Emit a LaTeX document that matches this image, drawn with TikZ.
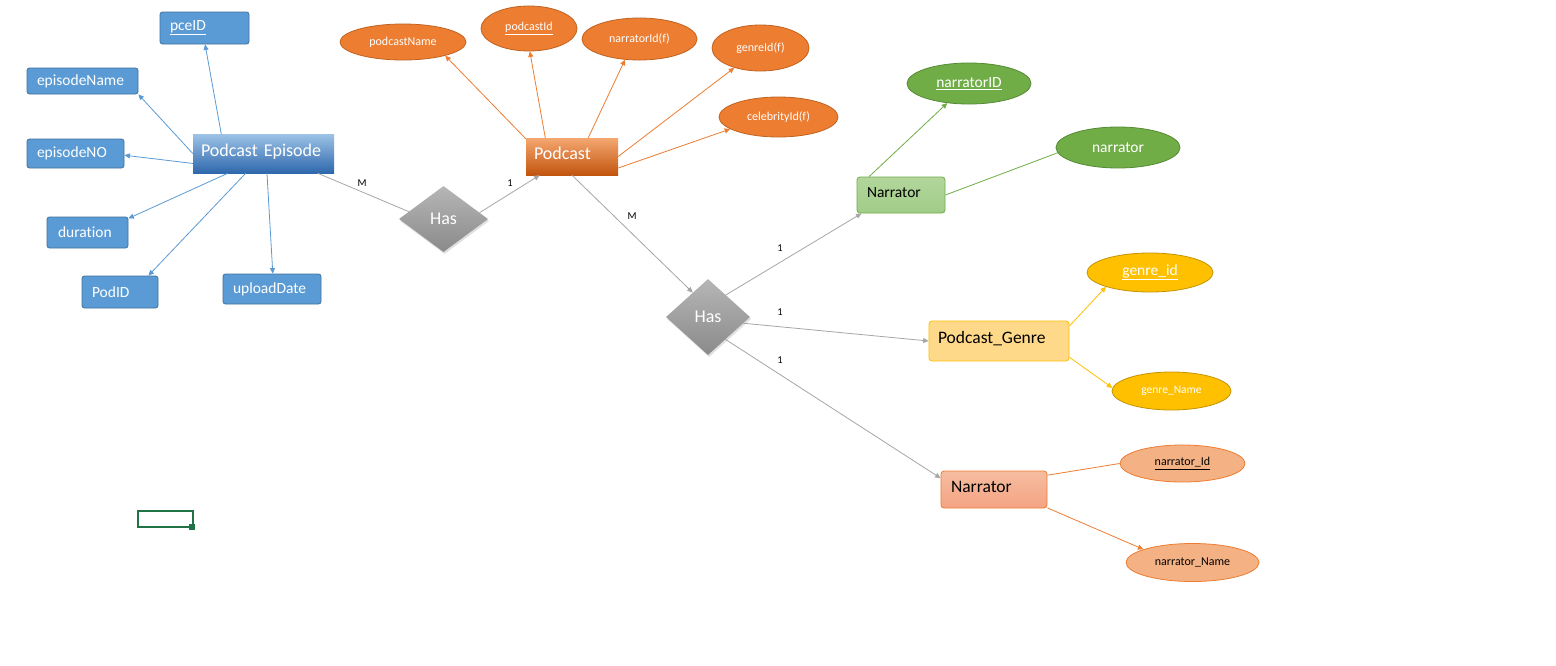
\documentclass[tikz,border=0pt]{standalone}
\usepackage{fontspec}
\setmainfont{Carlito}[Ligatures=NoCommon]
\usetikzlibrary{arrows.meta,shapes.geometric,shadows}

\definecolor{blueattr}{HTML}{5B9BD5}
\definecolor{blueedge}{HTML}{41719C}
\definecolor{bluetop}{HTML}{9DC3E6}
\definecolor{bluebot}{HTML}{2E68AC}
\definecolor{podorange}{HTML}{ED7D31}
\definecolor{orangeedge}{HTML}{C0631F}
\definecolor{orangetop}{HTML}{F4A771}
\definecolor{orangebot}{HTML}{C2550E}
\definecolor{grn}{HTML}{70AD47}
\definecolor{grnedge}{HTML}{578A36}
\definecolor{grnboxtop}{HTML}{B2D69C}
\definecolor{grnboxbot}{HTML}{A1CC87}
\definecolor{yel}{HTML}{FFC000}
\definecolor{yeledge}{HTML}{C49400}
\definecolor{yelbox}{HTML}{FFD98A}
\definecolor{salm}{HTML}{F4B183}
\definecolor{salmtop}{HTML}{F6BDA0}
\definecolor{salmbot}{HTML}{F4A383}
\definecolor{relgray}{HTML}{A6A6A6}
\definecolor{hastop}{HTML}{B6B6B6}
\definecolor{hasbot}{HTML}{8A8A8A}
\definecolor{excel}{HTML}{217346}

\tikzset{
  tip/.style={-{Triangle[length=5.5pt,width=5pt]}},
  battr/.style={rectangle, rounded corners=2.5pt, draw=blueedge, fill=blueattr,
    line width=0.8pt, text=white, align=left, inner xsep=10pt, inner ysep=0pt,
    font=\fontsize{15.5}{18}\selectfont},
  entbox/.style={rectangle, align=left, inner ysep=0pt, inner xsep=8pt,
    text height=13pt, text depth=8pt,
    font=\fontsize{18}{20}\selectfont, text=white},
  relbox/.style={rectangle, rounded corners=3pt, line width=0.8pt, align=left,
    inner ysep=0pt, inner xsep=10pt, text=black, text height=12pt, text depth=7pt},
  oval/.style={ellipse, inner sep=0pt, line width=0.8pt, align=center},
  orangeattr/.style={oval, fill=podorange, draw=orangeedge, text=white,
    font=\fontsize{12}{14}\selectfont},
  has/.style={diamond, inner sep=0pt, top color=hastop, bottom color=hasbot,
    text=white, font=\fontsize{18}{20}\selectfont,
    drop shadow={opacity=0.25, shadow xshift=1pt, shadow yshift=-2pt}},
  card/.style={font=\fontsize{10.5}{12}\selectfont, text=black, inner sep=0pt},
  bluelink/.style={draw=blueattr, line width=0.8pt},
  orangelink/.style={draw=podorange, line width=0.8pt},
  greenlink/.style={draw=grn, line width=0.8pt},
  yellink/.style={draw=yel, line width=0.8pt},
  rellink/.style={draw=relgray, line width=0.8pt},
}

\begin{document}
\begin{tikzpicture}[x=1pt, y=-1pt]
\useasboundingbox (0,0) rectangle (1556,665);
\fill[white] (0,0) rectangle (1556,665);

% ---------- Podcast Episode entity and its attributes ----------
\node[entbox, top color=bluetop, bottom color=bluebot, minimum width=141pt,
  minimum height=39pt, text width=125pt] (pe) at (263.5,153.5) {Podcast Episode};

\node[battr, minimum width=89pt, minimum height=32pt, text width=69pt] (pceid) at (204.5,28) {\underline{pceID}};
\node[battr, minimum width=111pt, minimum height=26pt, text width=91pt] (epname) at (82.5,81) {episodeName};
\node[battr, minimum width=97pt, minimum height=29pt, text width=77pt] (epno) at (75.5,153.5) {episodeNO};
\node[battr, minimum width=81pt, minimum height=31pt, text width=59pt, inner xsep=11pt] (dur) at (87.5,232.5) {duration};
\node[battr, minimum width=76pt, minimum height=32pt, text width=56pt] (podid) at (120,292) {PodID};
\node[battr, minimum width=98pt, minimum height=30pt, text width=78pt] (upload) at (272,289) {uploadDate};

\draw[bluelink, tip] (pe.155) -- (pceid.272);
\draw[bluelink, tip] (pe.west) -- (epname.south east);
\draw[bluelink, tip] (pe.188) -- (epno.358);
\draw[bluelink, tip] (pe.209) -- (dur.19);
\draw[bluelink, tip] (pe.228) -- (podid.30);
\draw[bluelink, tip] (pe.280) -- (upload.87);

% ---------- Podcast entity and its attributes ----------
\node[entbox, top color=orangetop, bottom color=orangebot, minimum width=92pt,
  minimum height=37pt, text width=76pt] (pod) at (572,156.5) {Podcast};

\node[orangeattr, minimum width=126pt, minimum height=36pt] (pname) at (403,42) {podcastName};
\node[orangeattr, minimum width=96pt, minimum height=45pt] (pid) at (529,28.5) {\underline{podcastId}};
\node[orangeattr, minimum width=115pt, minimum height=42pt] (pnarr) at (639.5,39) {narratorId(f)};
\node[orangeattr, minimum width=97pt, minimum height=46pt] (pgenre) at (760.5,48) {genreId(f)};
\node[orangeattr, minimum width=119pt, minimum height=40pt] (pceleb) at (778.5,117) {celebrityId(f)};

\draw[orangelink, tip] (pod.159) -- (pname.342);
\draw[orangelink, tip] (pod.145) -- (pid.272);
\draw[orangelink, tip] (pod.49) -- (pnarr.235);
\draw[orangelink, tip] (pod.east) -- (pgenre.217);
\draw[orangelink, tip] (pod.346) -- (pceleb.194);

% ---------- relationships ----------
\node[has, minimum width=89pt, minimum height=66pt] (has1) at (443.5,219) {Has};
\node[has, minimum width=84pt, minimum height=76pt] (has2) at (708,317) {Has};

\draw[rellink] (pe.340) -- (has1.168);
\draw[rellink, tip] (has1.10) -- (pod.210);
\draw[rellink, tip] (pod.south) -- (has2.122);

\node[card] (cm1) at (362,183) {M};
\node[card] (c11) at (510,183) {1};
\node[card] (cm2) at (632,216) {M};
\node[card] (c12) at (780,248) {1};
\node[card] (c13) at (780,312) {1};
\node[card] (c14) at (780,360) {1};

% ---------- Narrator (green) ----------
\node[relbox, top color=grnboxtop, bottom color=grnboxbot, draw=grn,
  minimum width=88pt, minimum height=36pt, text width=68pt,
  font=\fontsize{15.5}{18}\selectfont] (narr1) at (901,195) {Narrator};
\node[oval, fill=grn, draw=grnedge, text=white, minimum width=124pt, minimum height=41pt,
  font=\fontsize{15.5}{18}\selectfont] (narrid) at (969,83.5) {\underline{narratorID}};
\node[oval, fill=grn, draw=grnedge, text=white, minimum width=124pt, minimum height=41pt,
  font=\fontsize{15.5}{18}\selectfont] (narrname) at (1118,147.5) {narrator};

\draw[greenlink, tip] (narr1.150) -- (narrid.222);
\draw[greenlink] (narr1.east) -- (narrname.185);

% ---------- Podcast_Genre ----------
\node[relbox, fill=yelbox, draw=yel, minimum width=140pt, minimum height=40pt,
  text width=122pt, inner xsep=9pt, font=\fontsize{17.5}{20}\selectfont] (genre) at (999,341) {Podcast\_Genre};
\node[oval, fill=yel, draw=yeledge, text=white, minimum width=126pt, minimum height=39pt,
  font=\fontsize{15.5}{18}\selectfont] (gid) at (1150,272.5) {\underline{genre\_id}};
\node[oval, fill=yel, draw=yeledge, text=white, minimum width=119pt, minimum height=38pt,
  font=\fontsize{11.5}{14}\selectfont] (gname) at (1171.5,391) {genre\_Name};

\draw[yellink, tip] (genre.12) -- (gid.198);
\draw[yellink, tip] (genre.347) -- (gname.177);

% ---------- Narrator (salmon) ----------
\node[relbox, top color=salmtop, bottom color=salmbot, draw=podorange,
  minimum width=106pt, minimum height=37pt, text width=86pt,
  font=\fontsize{17.5}{20}\selectfont] (narr2) at (994,489.5) {Narrator};
\node[oval, fill=salm, draw=podorange, text=black, minimum width=125pt, minimum height=37pt,
  font=\fontsize{12}{14}\selectfont] (n2id) at (1182.5,463.5) {\underline{narrator\_Id}};
\node[oval, fill=salm, draw=podorange, text=black, minimum width=133pt, minimum height=38pt,
  font=\fontsize{12}{14}\selectfont] (n2name) at (1192.5,562.5) {narrator\_Name};

\draw[orangelink] (narr2.15) -- (n2id.west);
\draw[orangelink, tip] (narr2.341) -- (n2name.165);

% relationship lines from the second Has
\draw[rellink, tip] (has2.51) -- (narr1.205);
\draw[rellink, tip] (has2.350) -- (genre.west);
\draw[rellink, tip] (has2.308) -- (narr2.168);

% ---------- selected worksheet cell ----------
\draw[excel, line width=2pt] (138,511) rectangle (193,527);
\fill[excel] (189,524) rectangle (195,530);
\end{tikzpicture}
\end{document}
